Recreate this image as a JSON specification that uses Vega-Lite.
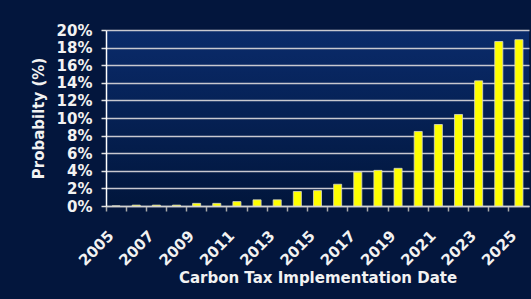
{
  "$schema": "https://vega.github.io/schema/vega-lite/v6.json",
  "width": 423,
  "height": 176,
  "autosize": {"type": "none"},
  "padding": {"left": 106, "top": 30, "right": 2, "bottom": 93},
  "background": "#03163d",
  "data": {
    "values": [
      {"year": 2005, "p": 0},
      {"year": 2006, "p": 0.1},
      {"year": 2007, "p": 0.1},
      {"year": 2008, "p": 0.1},
      {"year": 2009, "p": 0.3},
      {"year": 2010, "p": 0.3},
      {"year": 2011, "p": 0.5},
      {"year": 2012, "p": 0.7},
      {"year": 2013, "p": 0.7},
      {"year": 2014, "p": 1.65},
      {"year": 2015, "p": 1.75},
      {"year": 2016, "p": 2.47},
      {"year": 2017, "p": 3.85},
      {"year": 2018, "p": 4.05},
      {"year": 2019, "p": 4.28},
      {"year": 2020, "p": 8.47},
      {"year": 2021, "p": 9.26},
      {"year": 2022, "p": 10.4},
      {"year": 2023, "p": 14.22},
      {"year": 2024, "p": 18.69},
      {"year": 2025, "p": 18.9}
    ]
  },
  "mark": {"type": "bar", "color": "#ffff00", "stroke": "#d8d8c8", "strokeWidth": 0.8, "width": {"band": 0.4}},
  "encoding": {
    "x": {
      "field": "year",
      "type": "ordinal",
      "scale": {"paddingInner": 0, "paddingOuter": 0},
      "axis": {
        "title": "Carbon Tax Implementation Date",
        "bandPosition": 0,
        "labelAngle": -45,
        "labelAlign": "right",
        "labelBaseline": "top",
        "labelPadding": 17,
        "labelOffset": -10,
        "labelExpr": "datum.value % 2 == 1 ? datum.label : ''",
        "labelFont": "DejaVu Sans",
        "labelFontWeight": "bold",
        "labelFontSize": 15,
        "labelColor": "#f2f2f2",
        "labelOverlap": false,
        "domainColor": "#d0d0d0",
        "domainWidth": 1.5,
        "tickColor": "#a8a8a8",
        "tickSize": 5,
        "tickWidth": 1.5,
        "grid": false,
        "titleFont": "DejaVu Sans",
        "titleFontWeight": "bold",
        "titleFontSize": 15,
        "titleColor": "#f2f2f2",
        "titlePadding": 2
      }
    },
    "y": {
      "field": "p",
      "type": "quantitative",
      "scale": {"domain": [0, 20], "nice": false},
      "axis": {
        "title": "Probabilty (%)",
        "values": [0, 2, 4, 6, 8, 10, 12, 14, 16, 18, 20],
        "labelExpr": "datum.value + '%'",
        "labelFont": "DejaVu Sans",
        "labelFontWeight": "bold",
        "labelFontSize": 15,
        "labelColor": "#f2f2f2",
        "labelPadding": 9,
        "domainColor": "#ffffff",
        "domainWidth": 1.5,
        "tickColor": "#e0e0e0",
        "tickSize": 5,
        "tickWidth": 1.5,
        "grid": true,
        "gridColor": "#c8c8d0",
        "gridWidth": 1.5,
        "titleFont": "DejaVu Sans",
        "titleFontWeight": "bold",
        "titleFontSize": 15,
        "titleColor": "#f2f2f2",
        "titlePadding": 10
      }
    }
  },
  "config": {
    "view": {
      "stroke": null,
      "fill": {
        "gradient": "linear",
        "x1": 0, "y1": 0, "x2": 0, "y2": 1,
        "stops": [
          {"offset": 0, "color": "#0a2b6b"},
          {"offset": 1, "color": "#01163c"}
        ]
      }
    }
  }
}
